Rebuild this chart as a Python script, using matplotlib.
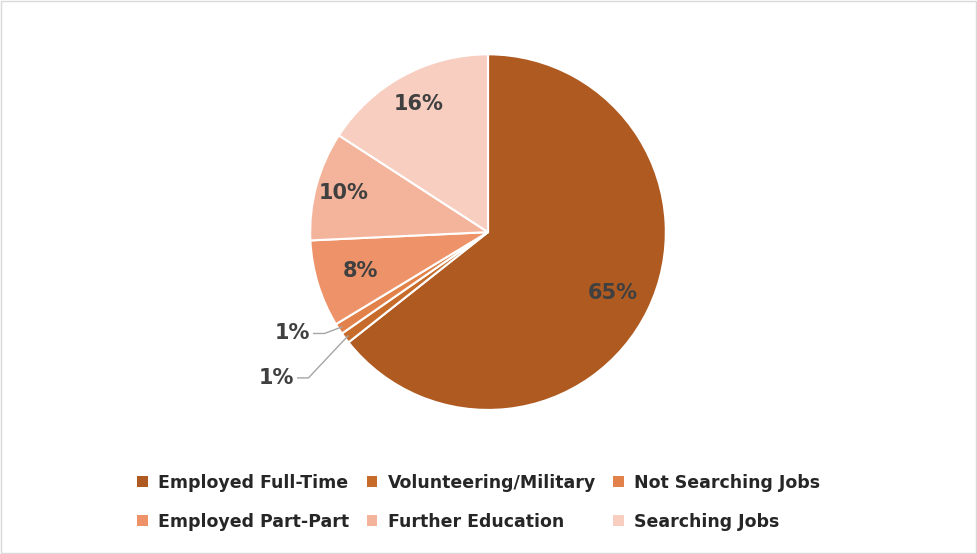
import numpy as np
import matplotlib.pyplot as plt
from matplotlib.patches import Patch

categories = ["Employed Full-Time", "Volunteering/Military", "Not Searching Jobs",
              "Employed Part-Part", "Further Education", "Searching Jobs"]
values = [65, 1, 1, 8, 10, 16]
labels = ["65%", "1%", "1%", "8%", "10%", "16%"]
colors = ["#AE5A21", "#C76B2B", "#E2824A", "#EE9369", "#F4B49B", "#F8CEC0"]

fig = plt.figure(figsize=(9.77, 5.54), dpi=100)
fig.patches.append(plt.Rectangle((0.001, 0.001), 0.998, 0.998, transform=fig.transFigure,
                                 fill=False, edgecolor="#D9D9D9", linewidth=1))
ax = fig.add_axes([0.4995 - 0.182, 0.581 - 0.3215, 0.364, 0.643])
wedges, _ = ax.pie(values, colors=colors, startangle=90, counterclock=False,
                   wedgeprops=dict(edgecolor="white", linewidth=1.5), radius=1)
ax.set_xlim(-1, 1)
ax.set_ylim(-1, 1)
ax.set_aspect("equal")

txt = dict(color="#404040", fontsize=15, fontweight="bold", ha="center", va="center")
pos = {0: 0.78, 3: 0.75, 4: 0.84, 5: 0.82}
for i, w in enumerate(wedges):
    ang = np.deg2rad((w.theta1 + w.theta2) / 2)
    if i in pos:
        r = pos[i]
        ax.text(r * np.cos(ang), r * np.sin(ang), labels[i], **txt)

# small slices with leader lines
small = {1: (-1.15, -0.82), 2: (-1.06, -0.57)}
for i, (lx, ly) in small.items():
    w = wedges[i]
    ang = np.deg2rad((w.theta1 + w.theta2) / 2)
    ex, ey = 0.98 * np.cos(ang), 0.98 * np.sin(ang)
    ax.plot([lx + 0.08, lx + 0.14, ex], [ly, ly, ey], color="#A6A6A6", lw=1, clip_on=False)
    ax.text(lx + 0.06, ly, labels[i], **{**txt, "ha": "right"})

handles = [Patch(facecolor=c) for c in colors]
order = [0, 3, 1, 4, 2, 5]
fig.legend([handles[k] for k in order], [categories[k] for k in order], ncol=3,
           loc="center", bbox_to_anchor=(0.49, 0.093), frameon=False,
           prop=dict(size=12.5, weight="bold"), handlelength=0.6, handleheight=0.6,
           columnspacing=1.0, labelspacing=1.2,
           labelcolor="#262626", handletextpad=0.6)

fig.savefig("out.png", dpi=100)
